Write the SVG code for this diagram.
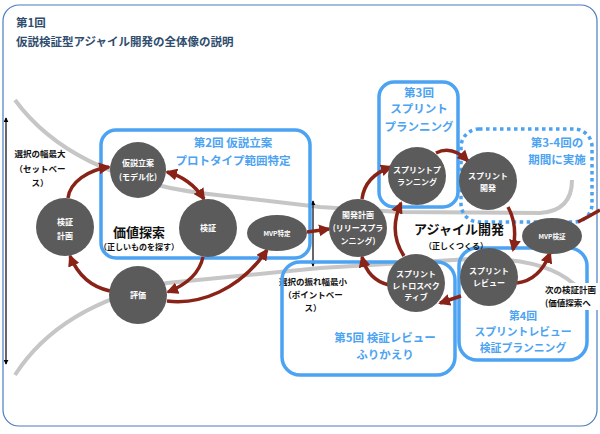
<svg xmlns="http://www.w3.org/2000/svg" width="600" height="434" viewBox="0 0 600 434">
  <defs>
    <style>
      text { font-family: "Noto Sans CJK JP", "Noto Sans", sans-serif; font-weight: bold; }
      .title { fill: #2f4d6e; font-size: 11.5px; }
      .note { fill: #111; font-size: 8.5px; text-anchor: middle; }
      .big { fill: #111; font-size: 13px; text-anchor: middle; }
      .sub { fill: #111; font-size: 8px; text-anchor: middle; }
      .node circle, .node ellipse { fill: #5b5b5b; }
      .node text { fill: #fff; font-size: 8px; text-anchor: middle; }
      .node text.small { font-size: 6.5px; }
      .box rect { fill: none; stroke: #4ca3f2; stroke-width: 3.5; }
      .box rect.dotted { stroke-dasharray: 3.5 3.5; }
      .box text { fill: #4ca3f2; font-size: 11.5px; text-anchor: middle; }
      .box text.tight { font-size: 10.8px; }
      .track { fill: none; stroke: #c6c6c6; stroke-width: 4; }
      .flow path { fill: none; stroke: #8a2317; stroke-width: 3.5; marker-end: url(#head); }
      .flow path.both { marker-start: url(#head); }
      .axis { stroke: #000; stroke-width: 1.2; marker-start: url(#tip); marker-end: url(#tip); }
    </style>
    <marker id="head" viewBox="0 0 12 12" refX="10" refY="6" markerWidth="12" markerHeight="12" markerUnits="userSpaceOnUse" orient="auto-start-reverse">
      <path d="M0,0 L12,6 L0,12 z" fill="#8a2317"/>
    </marker>
    <marker id="tip" viewBox="0 0 6 6" refX="5" refY="3" markerWidth="5" markerHeight="5" markerUnits="userSpaceOnUse" orient="auto-start-reverse">
      <path d="M0,0 L6,3 L0,6 z" fill="#000"/>
    </marker>
  </defs>

  <!-- outer frame -->
  <rect x="3" y="5" width="594" height="421" rx="16" fill="#fff" stroke="#4a7cc0" stroke-width="1.2"/>

  <!-- title -->
  <text class="title" x="16" y="27">第1回</text>
  <text class="title" x="16" y="46">仮説検証型アジャイル開発の全体像の説明</text>

  <!-- width-of-choice tracks -->
  <path class="track" d="M15,100 Q 70,175 200,193 L 320,207 L 400,212 L 540,213 Q 572,211 572,180"/>
  <path class="track" d="M15,375 Q 60,305 167,283 L 320,268 L 470,259 Q 550,256 580,290"/>

  <!-- vertical range arrows -->
  <line class="axis" x1="6" y1="118" x2="6" y2="364"/>
  <line class="axis" x1="313" y1="201" x2="313" y2="266"/>

  <text class="note" x="40" y="157">選択の幅最大</text>
  <text class="note" x="40" y="172">（セットベー</text>
  <text class="note" x="40" y="186">ス）</text>

  <text class="note" x="313" y="285">選択の振れ幅最小</text>
  <text class="note" x="313" y="298">（ポイントベー</text>
  <text class="note" x="313" y="311">ス）</text>

  <!-- session boxes -->
  <g id="session2" class="box">
    <rect x="101" y="130" width="209" height="128" rx="15"/>
    <text x="233" y="147">第2回 仮説立案</text>
    <text x="233" y="165">プロトタイプ範囲特定</text>
  </g>
  <g id="session3" class="box">
    <rect x="379" y="82" width="79" height="125" rx="15"/>
    <text x="419" y="97">第3回</text>
    <text x="419" y="113">スプリント</text>
    <text x="419" y="131">プランニング</text>
  </g>
  <g id="session34" class="box">
    <rect class="dotted" x="461" y="129" width="131" height="93" rx="18"/>
    <text x="557" y="147">第3-4回の</text>
    <text x="557" y="164">期間に実施</text>
  </g>
  <g id="session4" class="box">
    <rect x="459" y="248" width="128" height="112" rx="18"/>
    <text class="tight" x="523" y="320">第4回</text>
    <text class="tight" x="523" y="336">スプリントレビュー</text>
    <text class="tight" x="523" y="352">検証プランニング</text>
  </g>
  <g id="session5" class="box">
    <rect x="282" y="262" width="173" height="113" rx="18"/>
    <text x="385" y="342">第5回 検証レビュー</text>
    <text x="385" y="359">ふりかえり</text>
  </g>

  <!-- loop labels -->
  <text class="big" x="139" y="237">価値探索</text>
  <text class="sub" x="139" y="250">（正しいものを探す）</text>
  <text class="big" x="459" y="234">アジャイル開発</text>
  <text class="sub" x="456" y="249">（正しくつくる）</text>

  <!-- connectors -->
  <g id="connectors" class="flow">
    <path d="M68,198 C 70,182 88,170 109,167"/>
    <path class="both" d="M167,172 Q 190,178 204,199"/>
    <path d="M203,257 Q 198,280 168,292"/>
    <path d="M167,301 C 200,305 240,290 267,250"/>
    <path d="M110,291 Q 82,285 70,256"/>
    <path d="M307,232 L 329,229"/>
    <path d="M362,199 Q 365,176 391,167"/>
    <path d="M436,153 Q 452,145 468,161"/>
    <path d="M508,207 Q 518,225 513,250"/>
    <path d="M517,283 Q 540,280 550,253"/>
    <path d="M578,222 Q 590,216 600,210" style="marker-end:none"/>
    <path d="M461,296 L 440,303"/>
    <path d="M389,285 Q 368,280 362,257"/>
    <path d="M404,256 Q 388,232 401,203"/>
  </g>

  <!-- nodes -->
  <g id="verify-plan" class="node">
    <circle cx="65" cy="227" r="29"/>
    <text x="65" y="225">検証</text>
    <text x="65" y="239">計画</text>
  </g>
  <g id="hypothesis" class="node">
    <circle cx="138" cy="170" r="28"/>
    <text x="138" y="166">仮説立案</text>
    <text x="138" y="180">(モデル化)</text>
  </g>
  <g id="verify" class="node">
    <circle cx="208" cy="228" r="29"/>
    <text x="208" y="231">検証</text>
  </g>
  <g id="mvp-define" class="node">
    <ellipse cx="277" cy="233" rx="30" ry="18"/>
    <text class="small" x="277" y="236">MVP特定</text>
  </g>
  <g id="evaluate" class="node">
    <circle cx="138" cy="295" r="29"/>
    <text x="138" y="298">評価</text>
  </g>
  <g id="dev-plan" class="node">
    <circle cx="358" cy="228" r="29"/>
    <text x="358" y="218">開発計画</text>
    <text x="358" y="231">(リリースプラ</text>
    <text x="358" y="244">ンニング)</text>
  </g>
  <g id="sprint-planning" class="node">
    <circle cx="417" cy="176" r="29"/>
    <text x="417" y="173">スプリントプ</text>
    <text x="417" y="185">ランニング</text>
  </g>
  <g id="sprint-dev" class="node">
    <circle cx="488" cy="181" r="29"/>
    <text x="488" y="179">スプリント</text>
    <text x="488" y="191">開発</text>
  </g>
  <g id="mvp-verify" class="node">
    <ellipse cx="552" cy="236" rx="30" ry="18"/>
    <text class="small" x="552" y="239">MVP検証</text>
  </g>
  <g id="sprint-review" class="node">
    <circle cx="489" cy="277" r="29"/>
    <text x="489" y="274">スプリント</text>
    <text x="489" y="286">レビュー</text>
  </g>
  <g id="sprint-retro" class="node">
    <circle cx="416" cy="283" r="29"/>
    <text x="416" y="277">スプリント</text>
    <text x="416" y="289">レトロスペク</text>
    <text x="416" y="300">ティブ</text>
  </g>

  <!-- next-cycle note -->
  <rect x="543" y="283" width="57" height="27" fill="#fff"/>
  <text class="note" x="545" y="293" style="text-anchor:start">次の検証計画</text>
  <text class="note" x="545" y="306" style="text-anchor:start">(価値探索へ</text>
</svg>
